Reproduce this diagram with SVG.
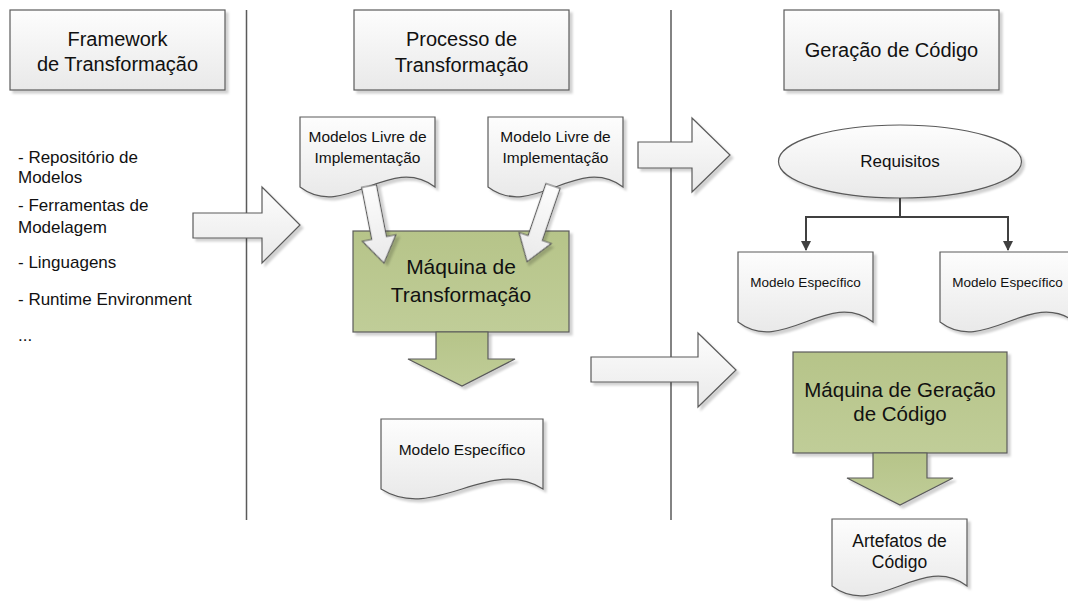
<svg xmlns="http://www.w3.org/2000/svg" width="1068" height="601" viewBox="0 0 1068 601">
  <defs>
    <linearGradient id="gLight" x1="0" y1="0" x2="0" y2="1">
      <stop offset="0" stop-color="#fdfdfd"/>
      <stop offset="1" stop-color="#e9e9e9"/>
    </linearGradient>
    <linearGradient id="gGreen" x1="0" y1="0" x2="0" y2="1">
      <stop offset="0" stop-color="#b6c489"/>
      <stop offset="1" stop-color="#c0cd98"/>
    </linearGradient>
    <filter id="shadow" x="-10%" y="-10%" width="130%" height="130%">
      <feDropShadow dx="3" dy="3" stdDeviation="1.2" flood-color="#000" flood-opacity="0.18"/>
    </filter>
    <marker id="arrowHead" markerWidth="10" markerHeight="10" refX="9" refY="5" orient="auto" markerUnits="userSpaceOnUse">
      <path d="M0,0 L10,5 L0,10 Z" fill="#404040"/>
    </marker>
    <style>
      .box { fill: url(#gLight); stroke: #5a5a5a; stroke-width: 1.2; filter: url(#shadow); }
      .doc { fill: url(#gLight); stroke: #5a5a5a; stroke-width: 1.2; filter: url(#shadow); }
      .green { fill: url(#gGreen); stroke: #5a5a5a; stroke-width: 1.2; filter: url(#shadow); }
      .blk { fill: url(#gLight); stroke: #5a5a5a; stroke-width: 1.2; filter: url(#shadow); }
      .lane { stroke: #5a5a5a; stroke-width: 1.5; }
      .conn { fill: none; stroke: #404040; stroke-width: 2; }
      text { font-family: "Liberation Sans", Arial, sans-serif; fill: #111; }
      .c { text-anchor: middle; }
      .h { font-size: 20px; }
      .lst { font-size: 17px; }
      .d15 { font-size: 15.5px; }
      .d13 { font-size: 13.5px; }
      .big { font-size: 21px; }
    </style>
  </defs>

  <!-- lane separators -->
  <g id="lanes">
    <line class="lane" x1="246.5" y1="10" x2="246.5" y2="520"/>
    <line class="lane" x1="671" y1="10" x2="671" y2="520"/>
  </g>

  <!-- column headers -->
  <g id="hdr-framework">
    <rect class="box" x="10" y="10" width="215" height="80"/>
    <text class="c h" x="117.5" y="46">Framework</text>
    <text class="c h" x="117.5" y="71">de Transformação</text>
  </g>
  <g id="hdr-processo">
    <rect class="box" x="354" y="10" width="215" height="80"/>
    <text class="c h" x="461.5" y="46">Processo de</text>
    <text class="c h" x="461.5" y="72">Transformação</text>
  </g>
  <g id="hdr-geracao">
    <rect class="box" x="784" y="10" width="215" height="80"/>
    <text class="c h" x="891.5" y="57">Geração de Código</text>
  </g>

  <!-- framework items -->
  <g id="framework-list" class="lst">
    <text x="18" y="163">- Repositório de</text>
    <text x="18" y="183">Modelos</text>
    <text x="18" y="211">- Ferramentas de</text>
    <text x="18" y="233">Modelagem</text>
    <text x="18" y="268">- Linguagens</text>
    <text x="18" y="305">- Runtime Environment</text>
    <text x="18" y="341">...</text>
  </g>

  <!-- transformation column -->
  <g id="doc-livre-1">
    <path class="doc" d="M300,117 H435 V187 C390,153 345,221 300,187 Z"/>
    <text class="c d15" x="367.5" y="142">Modelos Livre de</text>
    <text class="c d15" x="367.5" y="163">Implementação</text>
  </g>
  <g id="doc-livre-2">
    <path class="doc" d="M488,117 H623 V187 C578,153 533,221 488,187 Z"/>
    <text class="c d15" x="555.5" y="142">Modelo Livre de</text>
    <text class="c d15" x="555.5" y="163">Implementação</text>
  </g>
  <g id="maquina-transformacao">
    <rect class="green" x="353" y="231" width="216" height="101"/>
    <polygon class="green" points="436,332 488,332 488,359 515,359 462,386 408,359 436,359"/>
    <text class="c big" x="461" y="274">Máquina de</text>
    <text class="c big" x="461" y="302">Transformação</text>
  </g>
  <g id="doc-especifico-mid">
    <path class="doc" d="M381,419 H543 V489 C489,455 435,523 381,489 Z"/>
    <text class="c d15" x="462" y="455">Modelo Específico</text>
  </g>

  <!-- code generation column -->
  <g id="requisitos">
    <ellipse class="box" cx="900" cy="161.5" rx="121.5" ry="36.5"/>
    <text class="c" style="font-size:17px" x="900" y="167">Requisitos</text>
  </g>
  <g id="doc-especifico-a">
    <path class="doc" d="M738,252 H873 V322 C828,288 783,356 738,322 Z"/>
    <text class="c d13" x="805.5" y="287">Modelo Específico</text>
  </g>
  <g id="doc-especifico-b">
    <path class="doc" d="M940,252 H1075 V322 C1030,288 985,356 940,322 Z"/>
    <text class="c d13" x="1007.5" y="287">Modelo Específico</text>
  </g>
  <g id="maquina-geracao">
    <rect class="green" x="793" y="352" width="214" height="101"/>
    <polygon class="green" points="873,453 927,453 927,478 953,478 900,505 847,478 873,478"/>
    <text class="c" style="font-size:20.5px" x="900" y="397">Máquina de Geração</text>
    <text class="c" style="font-size:20.5px" x="900" y="421">de Código</text>
  </g>
  <g id="doc-artefatos">
    <path class="doc" d="M832,519 H967 V586 C922,552 877,620 832,586 Z"/>
    <text class="c" style="font-size:17.5px" x="899.5" y="547">Artefatos de</text>
    <text class="c" style="font-size:17.5px" x="899.5" y="568">Código</text>
  </g>

  <!-- connectors -->
  <g id="connectors">
    <polygon class="blk" points="193,213 262,213 262,187 300,225 262,263 262,238 193,238"/>
    <polygon class="blk" points="638,142 692,142 692,118 730,155 692,192 692,168 638,168"/>
    <polygon class="blk" points="591,357 698,357 698,333 736,370 698,407 698,382 591,382"/>
    <polygon class="blk" transform="translate(369,186) rotate(-11)" points="-7.5,0 7.5,0 7.5,53 17,53 0,78.5 -17,53 -7.5,53"/>
    <polygon class="blk" transform="translate(553,186) rotate(18.9)" points="-7.5,0 7.5,0 7.5,55 17,55 0,80 -17,55 -7.5,55"/>
    <path class="conn" d="M900,198 V217"/>
    <path class="conn" d="M900,217 H806 V250" marker-end="url(#arrowHead)"/>
    <path class="conn" d="M900,217 H1008 V250" marker-end="url(#arrowHead)"/>
  </g>
</svg>
